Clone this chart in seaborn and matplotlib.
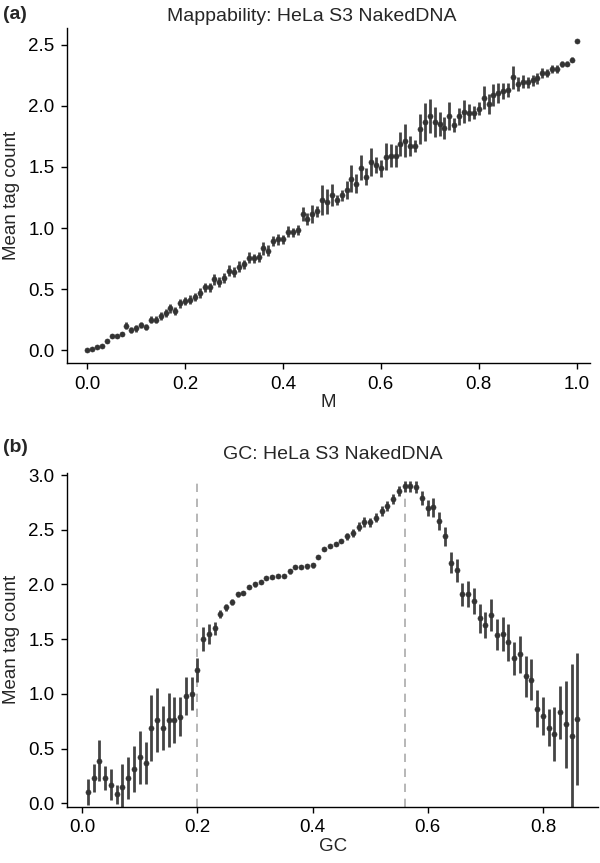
import numpy as np
import matplotlib
matplotlib.use("Agg")
import matplotlib.pyplot as plt
import seaborn as sns

# Mappability panel: M from 0 to 1 in steps of 0.01
m_vals = np.round(np.arange(0, 1.001, 0.01), 2)
m_mean = [
    0.00, 0.011, 0.027, 0.035, 0.077, 0.117, 0.117, 0.134, 0.202, 0.169,
    0.178, 0.208, 0.189, 0.251, 0.251, 0.279, 0.306, 0.342, 0.322, 0.383,
    0.404, 0.415, 0.437, 0.470, 0.514, 0.514, 0.579, 0.560, 0.593, 0.650,
    0.642, 0.683, 0.702, 0.757, 0.751, 0.765, 0.833, 0.814, 0.896, 0.910,
    0.907, 0.970, 0.964, 0.984, 1.112, 1.074, 1.115, 1.139, 1.230, 1.216,
    1.268, 1.230, 1.270, 1.311, 1.402, 1.361, 1.495, 1.421, 1.538, 1.516,
    1.489, 1.582, 1.593, 1.593, 1.686, 1.716, 1.672, 1.672, 1.809, 1.869,
    1.918, 1.869, 1.852, 1.817, 1.918, 1.844, 1.913, 1.953, 1.945, 1.945,
    1.978, 2.068, 2.016, 2.090, 2.104, 2.123, 2.131, 2.232, 2.178, 2.199,
    2.194, 2.208, 2.224, 2.268, 2.268, 2.301, 2.301, 2.339, 2.344, 2.377,
    2.533,
]
m_err = [
    0.005, 0.005, 0.005, 0.008, 0.015, 0.015, 0.015, 0.015, 0.03, 0.025,
    0.025, 0.025, 0.025, 0.03, 0.03, 0.03, 0.03, 0.035, 0.03, 0.035,
    0.035, 0.035, 0.035, 0.04, 0.04, 0.035, 0.045, 0.04, 0.04, 0.045,
    0.04, 0.045, 0.04, 0.045, 0.04, 0.04, 0.055, 0.045, 0.04, 0.045,
    0.035, 0.045, 0.04, 0.04, 0.057, 0.048, 0.075, 0.045, 0.12, 0.10,
    0.09, 0.04, 0.045, 0.072, 0.11, 0.078, 0.10, 0.068, 0.116, 0.068,
    0.068, 0.11, 0.093, 0.09, 0.10, 0.134, 0.082, 0.048, 0.123, 0.157,
    0.14, 0.12, 0.10, 0.09, 0.115, 0.055, 0.07, 0.095, 0.07, 0.05,
    0.055, 0.095, 0.08, 0.09, 0.08, 0.065, 0.055, 0.093, 0.06, 0.055,
    0.045, 0.045, 0.045, 0.04, 0.035, 0.03, 0.03, 0.025, 0.022, 0.02,
    0.0,
]

# GC panel: GC from 0.01 to 0.86
gc_vals = np.round(np.arange(0.01, 0.861, 0.01), 2)
gc_mean = [
    0.10, 0.23, 0.39, 0.23, 0.17, 0.08, 0.15, 0.23, 0.31, 0.42,
    0.37, 0.69, 0.76, 0.685, 0.76, 0.76, 0.79, 0.98, 1.00, 1.22,
    1.50, 1.545, 1.60, 1.73, 1.79, 1.84, 1.91, 1.92, 1.975, 2.00,
    2.02, 2.06, 2.07, 2.075, 2.08, 2.12, 2.16, 2.16, 2.165, 2.175,
    2.25, 2.32, 2.35, 2.37, 2.40, 2.44, 2.47, 2.53, 2.57, 2.57,
    2.61, 2.67, 2.72, 2.78, 2.855, 2.90, 2.90, 2.89, 2.79, 2.70,
    2.705, 2.58, 2.44, 2.20, 2.13, 1.91, 1.91, 1.85, 1.69, 1.63,
    1.72, 1.54, 1.545, 1.47, 1.325, 1.36, 1.16, 1.13, 0.865, 0.80,
    0.69, 0.63, 0.83, 0.72, 0.615, 0.77,
]
gc_err = [
    0.12, 0.13, 0.19, 0.11, 0.14, 0.09, 0.21, 0.19, 0.21, 0.24,
    0.19, 0.30, 0.29, 0.20, 0.25, 0.21, 0.18, 0.175, 0.15, 0.11,
    0.11, 0.09, 0.06, 0.04, 0.035, 0.03, 0.025, 0.02, 0.02, 0.02,
    0.02, 0.02, 0.02, 0.02, 0.02, 0.02, 0.02, 0.02, 0.02, 0.02,
    0.015, 0.015, 0.015, 0.02, 0.02, 0.03, 0.035, 0.04, 0.045, 0.04,
    0.04, 0.045, 0.045, 0.045, 0.045, 0.05, 0.05, 0.057, 0.064, 0.076,
    0.087, 0.084, 0.09, 0.096, 0.105, 0.107, 0.12, 0.12, 0.13, 0.12,
    0.145, 0.14, 0.157, 0.17, 0.15, 0.17, 0.19, 0.19, 0.17, 0.175,
    0.17, 0.245, 0.24, 0.40, 0.655, 0.60,
]
gc_lines = [0.2, 0.56]

sns.set_style("ticks")
plt.rcParams['font.family'] = ['Liberation Sans', 'DejaVu Sans']

dot_color = "#333333"
bar_color = "#444444"

fig = plt.figure(figsize=(6, 8.63), dpi=100)
ax1 = fig.add_axes([0.112, 0.579, 0.871, 0.389])
ax2 = fig.add_axes([0.112, 0.065, 0.885, 0.387])


def draw_panel(ax, x, y, err):
    ax.errorbar(x, y, yerr=err, fmt='none', ecolor=bar_color, elinewidth=2.0, capsize=0, zorder=2)
    sns.scatterplot(x=x, y=y, ax=ax, color=dot_color, s=13, edgecolor=dot_color, linewidth=0.5, zorder=3)
    sns.despine(ax=ax)
    ax.tick_params(axis='both', labelsize=13.5, length=4, width=1, pad=5,
                   color='black', labelcolor='black')
    for side in ['left', 'bottom']:
        ax.spines[side].set_color('black')
        ax.spines[side].set_linewidth(1)
    ax.set_ylabel("Mean tag count", fontsize=13.5, labelpad=6)


# (a) Mappability
draw_panel(ax1, m_vals, m_mean, m_err)
ax1.set_xlim(-0.041, 1.027)
ax1.set_ylim(-0.107, 2.64)
ax1.set_xticks([0.0, 0.2, 0.4, 0.6, 0.8, 1.0])
ax1.set_yticks([0.0, 0.5, 1.0, 1.5, 2.0, 2.5])
ax1.xaxis.set_major_formatter(matplotlib.ticker.FormatStrFormatter('%.1f'))
ax1.yaxis.set_major_formatter(matplotlib.ticker.FormatStrFormatter('%.1f'))
ax1.set_xlabel("M", fontsize=13.5, labelpad=1)
ax1.set_title("Mappability: HeLa S3 NakedDNA", fontsize=14, pad=5, x=0.468)

# (b) GC
for xl in gc_lines:
    ax2.axvline(xl, ymin=0, ymax=0.985, color="#aaaaaa", linestyle=(0, (5, 4)), linewidth=1.2, zorder=1)
draw_panel(ax2, gc_vals, gc_mean, gc_err)
ax2.set_xlim(-0.026, 0.896)
ax2.set_ylim(-0.034, 3.02)
ax2.set_xticks([0.0, 0.2, 0.4, 0.6, 0.8])
ax2.set_yticks([0.0, 0.5, 1.0, 1.5, 2.0, 2.5, 3.0])
ax2.xaxis.set_major_formatter(matplotlib.ticker.FormatStrFormatter('%.1f'))
ax2.yaxis.set_major_formatter(matplotlib.ticker.FormatStrFormatter('%.1f'))
ax2.set_xlabel("GC", fontsize=13.5, labelpad=1)
ax2.set_title("GC: HeLa S3 NakedDNA", fontsize=14, pad=10)

fig.text(0.005, 0.983, "(a)", fontsize=14, fontweight='bold', va='center', ha='left')
fig.text(0.005, 0.482, "(b)", fontsize=14, fontweight='bold', va='center', ha='left')

fig.savefig("out.png", dpi=100)
